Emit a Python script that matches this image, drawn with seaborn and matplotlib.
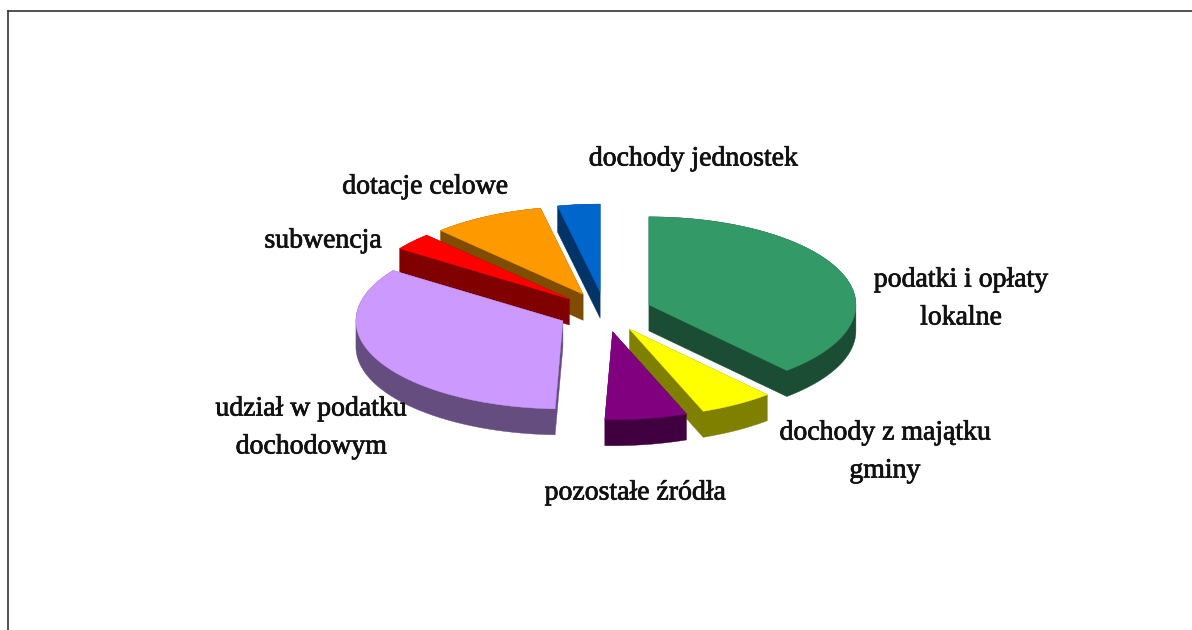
import numpy as np
import matplotlib
matplotlib.use("Agg")
import matplotlib.pyplot as plt
import matplotlib.patheffects as pe
import seaborn as sns

# Struktura dochodów gminy (udział procentowy), zgodnie z ruchem wskazówek od godziny 12
categories = ["podatki i opłaty\nlokalne", "dochody z majątku\ngminy", "pozostałe źródła",
              "udział w podatku\ndochodowym", "subwencja", "dotacje celowe", "dochody jednostek"]
shares = [38.4, 5.8, 6.4, 34.1, 3.2, 8.8, 3.3]
colors = ["#339966", "#FFFF00", "#800080", "#CC99FF", "#FF0000", "#FF9900", "#0066CC"]

W, H = 1192, 630
CX, CY = 605.0, 312.0     # pie centre, pixels from the top-left corner
RX, RY = 207.0, 88.0      # half-axes of the tilted disc
DEPTH = 26.0 / RY         # height of the extruded wall
EXPLODE = 0.227
LEFT, TOP = 8.0, 11.0

label_pos = [(961, 299), (885, 452), (635, 493), (311, 428), (323, 241), (425, 187), (693, 159)]

sns.set_theme(style="white")
plt.rcParams["font.family"] = ["Liberation Serif", "DejaVu Serif"]
palette = sns.color_palette(colors)

fig = plt.figure(figsize=(W / 100, H / 100), dpi=100, facecolor="white")
ax = fig.add_axes([LEFT / W, 0, 1 - LEFT / W, 1 - TOP / H])
ax.set_xlim((LEFT - CX) / RX, (W - CX) / RX)
ax.set_ylim((CY - H) / RY, (CY - TOP) / RY)
ax.set_xticks([])
ax.set_yticks([])
for side in ("right", "bottom"):
    ax.spines[side].set_visible(False)
for side in ("top", "left"):
    ax.spines[side].set_color("#333333")
    ax.spines[side].set_linewidth(1.2)

# Slice boundaries in degrees, running clockwise from the top
fractions = np.asarray(shares) / np.sum(shares)
ends = 90 - 360 * np.cumsum(fractions)
starts = np.r_[90.0, ends[:-1]]


def slice_outline(start, end):
    """Exploded slice as a closed polygon in unit-disc coordinates."""
    mid = np.radians((start + end) / 2)
    ox, oy = EXPLODE * np.cos(mid), EXPLODE * np.sin(mid)
    t = np.radians(np.linspace(start, end, 90))
    return np.r_[ox, ox + np.cos(t)], np.r_[oy, oy + np.sin(t)]


def convex_hull(points):
    """Monotone-chain hull, used for the silhouette of an extruded slice."""
    pts = sorted(set(map(tuple, points)))

    def half(seq):
        out = []
        for p in seq:
            while len(out) > 1 and ((out[-1][0] - out[-2][0]) * (p[1] - out[-2][1])
                                    - (out[-1][1] - out[-2][1]) * (p[0] - out[-2][0])) <= 0:
                out.pop()
            out.append(p)
        return out[:-1]

    return np.array(half(pts) + half(pts[::-1]))


# Rear slices are painted first so that the nearer ones overlap them
order = [6, 5, 4, 0, 3, 1, 2]
for i in order:
    xs, ys = slice_outline(starts[i], ends[i])
    shade = tuple(c * 0.5 for c in palette[i])
    top_face = np.column_stack([xs, ys])
    hull = convex_hull(np.vstack([top_face, top_face - [0, DEPTH]]))
    ax.fill(hull[:, 0], hull[:, 1], facecolor=shade, edgecolor=shade, linewidth=0.3)
    ax.fill(xs, ys, facecolor=palette[i], edgecolor=palette[i], linewidth=0.3)

# Category labels
for name, (px, py) in zip(categories, label_pos):
    label = fig.text(px / W, 1 - py / H, name, ha="center", va="center",
                     fontsize=20, color="#111111", linespacing=1.68)
    label.set_path_effects([pe.withStroke(linewidth=0.55, foreground="#111111")])

fig.savefig("out.png", dpi=100, facecolor="white")
